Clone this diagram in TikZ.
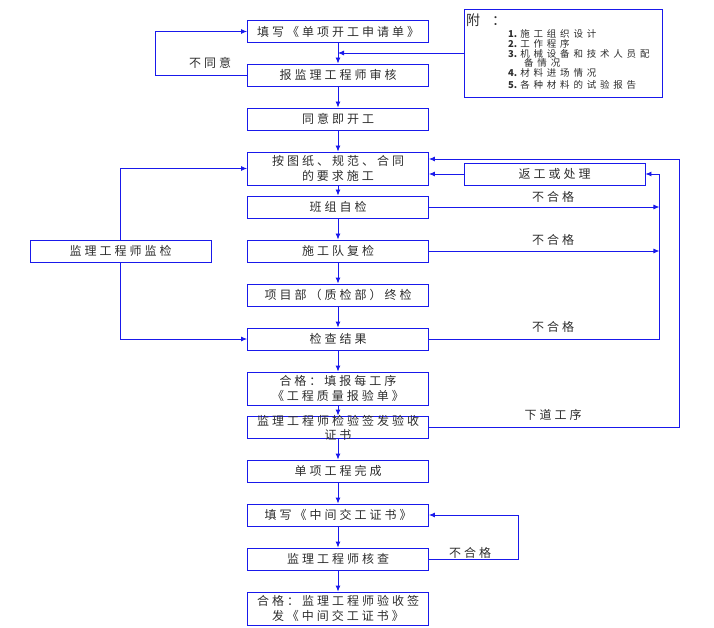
\documentclass[tikz,border=0pt]{standalone}
\usepackage{fontspec}
\newfontfamily\cjk[LetterSpace=25]{Noto Sans CJK SC}
\newfontfamily\cjknote[LetterSpace=40]{Noto Sans CJK SC}
\newfontfamily\cjkplain{Noto Sans CJK SC}
\usetikzlibrary{arrows.meta}
\definecolor{lineblue}{RGB}{25,25,235}
\definecolor{txtgray}{RGB}{45,45,45}
\newcommand\itemno[1]{{\cjkplain\bfseries #1}\hspace{3pt}}

\begin{document}
\begin{tikzpicture}[x=1pt,y=-1pt,
        box/.style={draw=lineblue,line width=0.85pt,minimum width=181pt,minimum height=22pt,inner sep=1pt,align=center,text=txtgray,font=\cjk\fontsize{12}{15}\selectfont},
        tallbox/.style={box,minimum height=33pt},
        flow/.style={draw=lineblue,line width=0.85pt,-{Latex[length=6pt,width=5pt]}},
        lbl/.style={text=txtgray,font=\cjk\fontsize{12}{15}\selectfont},
        note/.style={anchor=west,inner sep=0pt,text=txtgray,font=\cjknote\fontsize{9.5}{11}\selectfont}]
    \useasboundingbox (0,0) rectangle (714,628);
    \node[box] (b1) at (338,31.5) {填写《单项开工申请单》};
    \node[box] (b2) at (338,75) {报监理工程师审核};
    \node[box] (b3) at (338,119) {同意即开工};
    \node[tallbox] (b4) at (338,168.5) {按图纸、规范、合同\\的要求施工};
    \node[box] (b5) at (338,207) {班组自检};
    \node[box] (b6) at (338,251) {施工队复检};
    \node[box] (b7) at (338,295) {项目部（质检部）终检};
    \node[box] (b8) at (338,339) {检查结果};
    \node[tallbox] (b9) at (338,388.5) {合格：填报每工序\\《工程质量报验单》};
    \node[box,font=\cjk\fontsize{12}{12}\selectfont] (b10) at (338,427)
        {\smash{\raisebox{-5pt}{\begin{tabular}{@{}c@{}}监理工程师检验签发验收\\证书\end{tabular}}}};
    \node[box] (b11) at (338,471) {单项工程完成};
    \node[box] (b12) at (338,515) {填写《中间交工证书》};
    \node[box] (b13) at (338,559) {监理工程师核查};
    \node[tallbox] (b14) at (338,608.5) {合格：监理工程师验收签\\发《中间交工证书》};
    \node[box] (mon) at (120.5,251) {监理工程师监检};
    \node[box] (fix) at (554.5,174) {返工或处理};
    \node[draw=lineblue,line width=0.85pt,minimum width=198pt,minimum height=88pt] (app) at (563,53) {};

    \node[note,font=\cjk\fontsize{14}{14}\selectfont] (fu) at (466,20) {附\hspace{12pt}：};
    \node[note] (n1) at (508,34) {\itemno{1.}施工组织设计};
    \node[note] (n2) at (508,44) {\itemno{2.}工作程序};
    \node[note] (n3) at (508,54) {\itemno{3.}机械设备和技术人员配};
    \node[note] (n3b) at (524,63) {备情况};
    \node[note] (n4) at (508,73) {\itemno{4.}材料进场情况};
    \node[note] (n5) at (508,85) {\itemno{5.}各种材料的试验报告};

    \foreach \a/\b in {b1/b2,b2/b3,b3/b4,b4/b5,b5/b6,b6/b7,b7/b8,b8/b9,b9/b10,b10/b11,b11/b12,b12/b13,b13/b14}
        \draw[flow] (\a) -- (\b);

    \draw[flow] (app.west) -- (app.west -| b1.south);
    \draw[flow] (b2.west) -- ++(-92,0) |- (b1.west);
    \node[lbl] (nodisagree) at (210,63) {不同意};

    \draw[flow] (mon.north) |- (b4.west);
    \draw[flow] (mon.south) |- (b8.west);

    \coordinate (rx) at ([xshift=14pt]fix.east);
    \draw[flow] (fix.west) -- (fix.west -| b4.east);
    \draw[flow] (b5.east) -- (b5.east -| rx);
    \draw[flow] (b6.east) -- (b6.east -| rx);
    \draw[flow] (b8.east) -| (rx) -- (fix.east);
    \node[lbl] (fail1) at (553,197) {不合格};
    \node[lbl] (fail2) at (553,240) {不合格};
    \node[lbl] (fail3) at (553,327) {不合格};

    \coordinate (ox) at (679,159);
    \draw[flow] (b10.east) -| (ox) -- (ox -| b4.east);
    \node[lbl] (nextstep) at (553,415) {下道工序};

    \draw[flow] (b13.east) -- ++(89,0) |- (b12.east);
    \node[lbl] (fail4) at (470,553) {不合格};
\end{tikzpicture}
\end{document}
